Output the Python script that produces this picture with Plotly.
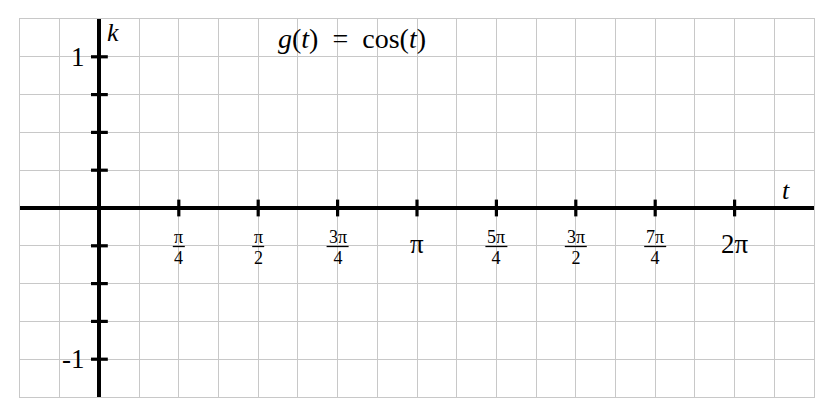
import math
import plotly.graph_objects as go

PI = math.pi

# ---- data ----
x_range = [-PI / 4, 9 * PI / 4]
y_range = [-1.25, 1.25]
x_tick_vals = [PI / 4, PI / 2, 3 * PI / 4, PI, 5 * PI / 4, 3 * PI / 2, 7 * PI / 4, 2 * PI]
x_tick_num = ["π", "π", "3π", "π", "5π", "3π", "7π", "2π"]
x_tick_den = ["4", "2", "4", "", "4", "2", "4", ""]
y_tick_vals = [-1, -0.75, -0.5, -0.25, 0.25, 0.5, 0.75, 1]
y_label_vals = [1, -1]
y_label_text = ["1", "-1"]
title_text = "<i>g</i>(<i>t</i>)\u2002=\u2002cos(<i>t</i>)"
x_axis_name = "<i>t</i>"
y_axis_name = "<i>k</i>"

FONT = "Times New Roman, Liberation Serif, DejaVu Serif, serif"
GRID = "#c8c8c8"

fig = go.Figure()

# tick marks on the axes
fig.add_trace(go.Scatter(
    x=x_tick_vals, y=[0] * len(x_tick_vals), mode="markers",
    marker=dict(symbol="line-ns", size=12, line=dict(width=3.2, color="black")),
    hoverinfo="skip", showlegend=False,
))
fig.add_trace(go.Scatter(
    x=[0] * len(y_tick_vals), y=y_tick_vals, mode="markers",
    marker=dict(symbol="line-ew", size=12, line=dict(width=3.2, color="black")),
    hoverinfo="skip", showlegend=False,
))

annotations = []
shapes = []
for xv, num, den in zip(x_tick_vals, x_tick_num, x_tick_den):
    if den:
        frac = (f"<span style='font-size:18px'>{num}</span><br>"
                f"<span style='font-size:18px'>{den}</span>")
        annotations.append(dict(x=xv, y=0, xref="x", yref="y", text=frac, showarrow=False,
                                yanchor="middle", yshift=-39, borderpad=0,
                                font=dict(family=FONT, size=16, color="black")))
        half = 6 if len(num) == 1 else 11
        shapes.append(dict(type="line", xref="x", yref="y", xsizemode="pixel", ysizemode="pixel",
                           xanchor=xv, yanchor=0, x0=-half, x1=half, y0=-38.5, y1=-38.5,
                           line=dict(color="black", width=1.3)))
    else:
        annotations.append(dict(x=xv, y=0, xref="x", yref="y", text=num, showarrow=False,
                                yanchor="middle", yshift=-36, font=dict(family=FONT, size=27, color="black")))

for yv, txt in zip(y_label_vals, y_label_text):
    annotations.append(dict(x=0, y=yv, xref="x", yref="y", text=txt, showarrow=False,
                            xanchor="right", xshift=-12, yanchor="middle",
                            font=dict(family=FONT, size=27, color="black")))

annotations.append(dict(x=0, y=y_range[1], xref="x", yref="y", text=y_axis_name, showarrow=False,
                        xanchor="left", xshift=6, yanchor="top", yshift=3,
                        font=dict(family=FONT, size=26, color="black")))
annotations.append(dict(x=x_range[1], y=0, xref="x", yref="y", text=x_axis_name, showarrow=False,
                        xanchor="center", xshift=-28, yanchor="bottom", yshift=1,
                        font=dict(family=FONT, size=26, color="black")))
annotations.append(dict(x=0.418, y=y_range[1], xref="paper", yref="y", text=title_text, showarrow=False,
                        xanchor="center", yanchor="top", yshift=-2,
                        font=dict(family=FONT, size=28, color="black")))

# the page body has an 8px margin, so the figure is sized to land the plot area in place
fig.update_layout(
    width=818, height=401,
    margin=dict(l=12, r=12, t=11, b=12),
    paper_bgcolor="white", plot_bgcolor="white",
    showlegend=False,
    annotations=annotations,
    shapes=shapes,
    xaxis=dict(range=x_range, tick0=0, dtick=PI / 8, showticklabels=False, ticks="",
               showgrid=True, gridcolor=GRID, gridwidth=1,
               zeroline=True, zerolinecolor="black", zerolinewidth=3.5,
               showline=True, linecolor=GRID, linewidth=1, mirror=True, fixedrange=True),
    yaxis=dict(range=y_range, tick0=0, dtick=0.25, showticklabels=False, ticks="",
               showgrid=True, gridcolor=GRID, gridwidth=1,
               zeroline=True, zerolinecolor="black", zerolinewidth=3.5,
               showline=True, linecolor=GRID, linewidth=1, mirror=True, fixedrange=True),
)

fig.write_html("out.html")
